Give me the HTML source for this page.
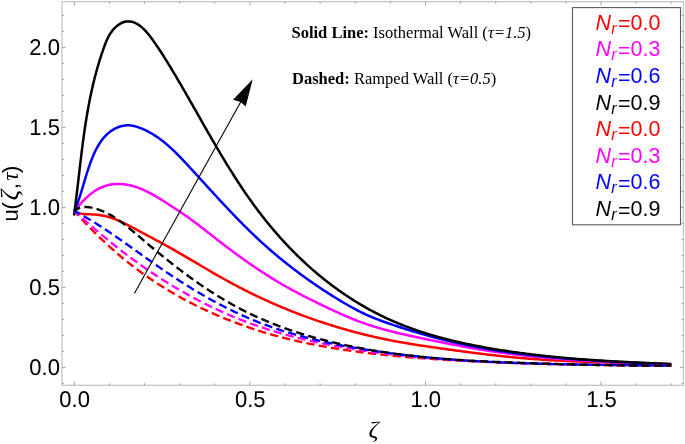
<!DOCTYPE html>
<html><head><meta charset="utf-8"><title>u(ζ,τ) plot</title>
<style>html,body{margin:0;padding:0;background:#fff;}svg{display:block;}</style></head>
<body>
<svg width="685" height="444" viewBox="0 0 685 444"><rect x="62.0" y="1.7" width="621.40" height="383.60" fill="none" stroke="#c6c6c6" stroke-width="1.3"/>
<path d="M74.30,385.3 v-3.6 M74.30,1.7 v3.6 M109.42,385.3 v-2.0 M109.42,1.7 v2.0 M144.54,385.3 v-2.0 M144.54,1.7 v2.0 M179.66,385.3 v-2.0 M179.66,1.7 v2.0 M214.78,385.3 v-2.0 M214.78,1.7 v2.0 M249.90,385.3 v-3.6 M249.90,1.7 v3.6 M285.02,385.3 v-2.0 M285.02,1.7 v2.0 M320.14,385.3 v-2.0 M320.14,1.7 v2.0 M355.26,385.3 v-2.0 M355.26,1.7 v2.0 M390.38,385.3 v-2.0 M390.38,1.7 v2.0 M425.50,385.3 v-3.6 M425.50,1.7 v3.6 M460.62,385.3 v-2.0 M460.62,1.7 v2.0 M495.74,385.3 v-2.0 M495.74,1.7 v2.0 M530.86,385.3 v-2.0 M530.86,1.7 v2.0 M565.98,385.3 v-2.0 M565.98,1.7 v2.0 M601.10,385.3 v-3.6 M601.10,1.7 v3.6 M636.22,385.3 v-2.0 M636.22,1.7 v2.0 M671.34,385.3 v-2.0 M671.34,1.7 v2.0 M62.0,383.30 h2.0 M683.4,383.30 h-2.0 M62.0,367.30 h3.6 M683.4,367.30 h-3.6 M62.0,351.30 h2.0 M683.4,351.30 h-2.0 M62.0,335.30 h2.0 M683.4,335.30 h-2.0 M62.0,319.30 h2.0 M683.4,319.30 h-2.0 M62.0,303.30 h2.0 M683.4,303.30 h-2.0 M62.0,287.30 h3.6 M683.4,287.30 h-3.6 M62.0,271.30 h2.0 M683.4,271.30 h-2.0 M62.0,255.30 h2.0 M683.4,255.30 h-2.0 M62.0,239.30 h2.0 M683.4,239.30 h-2.0 M62.0,223.30 h2.0 M683.4,223.30 h-2.0 M62.0,207.30 h3.6 M683.4,207.30 h-3.6 M62.0,191.30 h2.0 M683.4,191.30 h-2.0 M62.0,175.30 h2.0 M683.4,175.30 h-2.0 M62.0,159.30 h2.0 M683.4,159.30 h-2.0 M62.0,143.30 h2.0 M683.4,143.30 h-2.0 M62.0,127.30 h3.6 M683.4,127.30 h-3.6 M62.0,111.30 h2.0 M683.4,111.30 h-2.0 M62.0,95.30 h2.0 M683.4,95.30 h-2.0 M62.0,79.30 h2.0 M683.4,79.30 h-2.0 M62.0,63.30 h2.0 M683.4,63.30 h-2.0 M62.0,47.30 h3.6 M683.4,47.30 h-3.6 M62.0,31.30 h2.0 M683.4,31.30 h-2.0 M62.0,15.30 h2.0 M683.4,15.30 h-2.0" stroke="#a0a0a0" stroke-width="1" fill="none"/>
<g font-family="Liberation Sans, Arial, sans-serif" font-size="22.9" fill="#000" text-rendering="geometricPrecision"><text transform="translate(59.9,374.60) scale(0.96,1)" text-anchor="end">0.0</text><text transform="translate(59.9,294.60) scale(0.96,1)" text-anchor="end">0.5</text><text transform="translate(59.9,214.60) scale(0.96,1)" text-anchor="end">1.0</text><text transform="translate(59.9,134.60) scale(0.96,1)" text-anchor="end">1.5</text><text transform="translate(59.9,54.60) scale(0.96,1)" text-anchor="end">2.0</text><text transform="translate(74.60,407.4) scale(0.96,1)" text-anchor="middle">0.0</text><text transform="translate(250.20,407.4) scale(0.96,1)" text-anchor="middle">0.5</text><text transform="translate(425.80,407.4) scale(0.96,1)" text-anchor="middle">1.0</text><text transform="translate(601.40,407.4) scale(0.96,1)" text-anchor="middle">1.5</text></g>
<text transform="translate(373.6,436.75) scale(1.12,1)" text-anchor="middle" font-family="Liberation Serif, serif" font-style="italic" font-size="22.2">ζ</text>
<text transform="translate(18,215.4) rotate(-90)" text-anchor="middle" font-family="Liberation Sans, sans-serif" font-size="22">u</text>
<text transform="translate(18,205.8) rotate(-90)" text-anchor="middle" font-family="Liberation Sans, sans-serif" font-size="22">(</text>
<text transform="translate(18,195.0) rotate(-90)" text-anchor="middle" font-family="Liberation Serif, serif" font-style="italic" font-size="25.5">ζ</text>
<text transform="translate(18,186.3) rotate(-90)" text-anchor="middle" font-family="Liberation Sans, sans-serif" font-size="22">,</text>
<text transform="translate(18,176.45) rotate(-90)" text-anchor="middle" font-family="Liberation Serif, serif" font-style="italic" font-size="23.5">τ</text>
<text transform="translate(18,169.25) rotate(-90)" text-anchor="middle" font-family="Liberation Sans, sans-serif" font-size="22">)</text>
<path d="M74.38,211.50 L75.87,212.24 L77.36,212.80 L78.84,213.21 L80.32,213.51 L81.79,213.74 L83.26,213.92 L84.73,214.06 L86.19,214.16 L87.65,214.24 L89.10,214.30 L90.55,214.35 L92.00,214.40 L93.44,214.46 L94.89,214.53 L96.32,214.63 L97.75,214.76 L99.18,214.94 L100.61,215.15 L102.03,215.40 L103.45,215.68 L104.87,216.00 L106.28,216.36 L107.69,216.74 L109.09,217.16 L110.50,217.61 L111.90,218.08 L113.29,218.58 L114.68,219.10 L116.07,219.65 L117.46,220.22 L118.84,220.81 L120.22,221.42 L121.60,222.05 L122.98,222.69 L124.35,223.34 L125.72,224.01 L127.08,224.69 L128.44,225.39 L129.80,226.08 L131.16,226.79 L132.52,227.50 L133.87,228.22 L135.22,228.94 L136.56,229.66 L137.91,230.37 L139.25,231.09 L140.59,231.81 L141.92,232.52 L143.26,233.23 L144.59,233.94 L145.92,234.65 L147.24,235.35 L148.57,236.06 L149.89,236.77 L151.21,237.47 L152.53,238.18 L153.85,238.88 L155.16,239.59 L156.48,240.29 L157.79,241.00 L159.10,241.71 L160.41,242.42 L161.72,243.13 L163.02,243.84 L164.33,244.55 L165.63,245.27 L166.93,245.99 L168.23,246.71 L169.53,247.44 L170.83,248.16 L172.13,248.89 L173.42,249.63 L174.72,250.37 L176.01,251.10 L177.31,251.85 L178.60,252.59 L179.90,253.34 L181.19,254.09 L182.48,254.84 L183.77,255.59 L185.06,256.34 L186.35,257.10 L187.64,257.86 L188.94,258.61 L190.23,259.37 L191.52,260.13 L192.81,260.89 L194.10,261.66 L195.39,262.42 L196.68,263.18 L197.97,263.94 L199.26,264.70 L200.56,265.47 L201.85,266.23 L203.14,266.99 L204.44,267.75 L205.73,268.51 L207.02,269.27 L208.32,270.03 L209.62,270.79 L210.92,271.55 L212.22,272.30 L213.52,273.05 L214.82,273.81 L216.12,274.55 L217.42,275.30 L218.73,276.05 L220.03,276.79 L221.34,277.53 L222.65,278.27 L223.96,279.00 L225.27,279.74 L226.59,280.47 L227.90,281.19 L229.22,281.92 L230.54,282.63 L231.86,283.35 L233.19,284.06 L234.51,284.77 L235.84,285.48 L237.17,286.18 L238.50,286.88 L239.83,287.57 L241.17,288.26 L242.51,288.95 L243.84,289.63 L245.18,290.31 L246.53,290.99 L247.87,291.66 L249.22,292.33 L250.56,292.99 L251.91,293.66 L253.26,294.32 L254.62,294.97 L255.97,295.62 L257.33,296.27 L258.68,296.91 L260.04,297.55 L261.40,298.19 L262.77,298.82 L264.13,299.45 L265.50,300.08 L266.87,300.70 L268.23,301.32 L269.61,301.93 L270.98,302.54 L272.35,303.15 L273.73,303.75 L275.10,304.35 L276.48,304.95 L277.86,305.54 L279.24,306.13 L280.63,306.72 L282.01,307.30 L283.40,307.88 L284.79,308.45 L286.18,309.02 L287.57,309.59 L288.96,310.15 L290.35,310.71 L291.75,311.27 L293.14,311.82 L294.54,312.37 L295.94,312.91 L297.34,313.45 L298.74,313.99 L300.14,314.52 L301.55,315.05 L302.95,315.58 L304.36,316.10 L305.77,316.62 L307.18,317.13 L308.59,317.64 L310.00,318.15 L311.42,318.65 L312.83,319.15 L314.25,319.64 L315.66,320.14 L317.08,320.62 L318.50,321.11 L319.92,321.59 L321.34,322.06 L322.77,322.54 L324.19,323.01 L325.62,323.47 L327.04,323.93 L328.47,324.39 L329.90,324.84 L331.33,325.29 L332.76,325.74 L334.19,326.18 L335.62,326.62 L337.06,327.05 L338.49,327.48 L339.93,327.91 L341.37,328.33 L342.80,328.75 L344.24,329.16 L345.68,329.57 L347.12,329.98 L348.57,330.38 L350.01,330.78 L351.45,331.18 L352.90,331.57 L354.34,331.96 L355.79,332.34 L357.24,332.72 L358.69,333.09 L360.14,333.47 L361.59,333.83 L363.04,334.20 L364.49,334.56 L365.94,334.91 L367.39,335.27 L368.85,335.61 L370.30,335.96 L371.76,336.30 L373.22,336.63 L374.67,336.97 L376.13,337.29 L377.59,337.62 L379.05,337.94 L380.51,338.25 L381.97,338.57 L383.43,338.87 L384.89,339.18 L386.36,339.48 L387.82,339.78 L389.29,340.07 L390.75,340.36 L392.22,340.64 L393.68,340.92 L395.15,341.20 L396.62,341.47 L398.08,341.74 L399.55,342.00 L401.02,342.27 L402.49,342.53 L403.96,342.78 L405.43,343.04 L406.90,343.28 L408.38,343.53 L409.85,343.78 L411.32,344.02 L412.79,344.26 L414.27,344.49 L415.74,344.73 L417.22,344.96 L418.69,345.19 L420.17,345.41 L421.65,345.64 L423.12,345.86 L424.60,346.08 L426.08,346.30 L427.56,346.52 L429.04,346.73 L430.52,346.95 L432.00,347.16 L433.48,347.37 L434.96,347.58 L436.44,347.79 L437.92,348.00 L439.41,348.21 L440.89,348.41 L442.37,348.62 L443.86,348.82 L445.34,349.03 L446.82,349.23 L448.31,349.44 L449.79,349.64 L451.28,349.84 L452.77,350.05 L454.25,350.25 L455.74,350.45 L457.23,350.65 L458.72,350.85 L460.20,351.05 L461.69,351.25 L463.18,351.45 L464.67,351.65 L466.16,351.84 L467.65,352.04 L469.14,352.24 L470.63,352.43 L472.12,352.62 L473.61,352.82 L475.11,353.01 L476.60,353.20 L478.09,353.38 L479.58,353.57 L481.08,353.76 L482.57,353.94 L484.06,354.13 L485.56,354.31 L487.05,354.49 L488.55,354.67 L490.04,354.84 L491.53,355.02 L493.03,355.19 L494.53,355.36 L496.02,355.53 L497.52,355.70 L499.01,355.87 L500.51,356.03 L502.01,356.19 L503.50,356.35 L505.00,356.51 L506.50,356.67 L507.99,356.82 L509.49,356.97 L510.99,357.12 L512.49,357.27 L513.99,357.41 L515.49,357.55 L516.98,357.69 L518.48,357.83 L519.98,357.96 L521.48,358.09 L522.98,358.22 L524.48,358.35 L525.98,358.47 L527.48,358.59 L528.98,358.71 L530.48,358.82 L531.98,358.94 L533.48,359.05 L534.98,359.16 L536.48,359.26 L537.98,359.37 L539.48,359.47 L540.98,359.57 L542.48,359.67 L543.98,359.76 L545.48,359.86 L546.99,359.95 L548.49,360.04 L549.99,360.13 L551.49,360.21 L552.99,360.30 L554.49,360.38 L555.99,360.46 L557.49,360.54 L559.00,360.62 L560.50,360.69 L562.00,360.77 L563.50,360.84 L565.00,360.91 L566.50,360.98 L568.00,361.05 L569.51,361.12 L571.01,361.18 L572.51,361.25 L574.01,361.31 L575.51,361.37 L577.01,361.43 L578.51,361.49 L580.02,361.55 L581.52,361.61 L583.02,361.67 L584.52,361.72 L586.02,361.78 L587.52,361.83 L589.02,361.89 L590.52,361.94 L592.02,361.99 L593.52,362.04 L595.02,362.09 L596.53,362.14 L598.03,362.19 L599.53,362.24 L601.03,362.28 L602.53,362.33 L604.03,362.38 L605.53,362.43 L607.02,362.47 L608.52,362.52 L610.02,362.56 L611.52,362.61 L613.02,362.65 L614.52,362.70 L616.02,362.74 L617.52,362.79 L619.02,362.83 L620.51,362.88 L622.01,362.92 L623.51,362.97 L625.01,363.01 L626.50,363.06 L628.00,363.10 L629.50,363.15 L630.99,363.20 L632.49,363.24 L633.99,363.29 L635.48,363.34 L636.98,363.38 L638.47,363.43 L639.97,363.48 L641.46,363.53 L642.96,363.58 L644.45,363.63 L645.95,363.68 L647.44,363.73 L648.93,363.79 L650.43,363.84 L651.92,363.90 L653.41,363.95 L654.91,364.01 L656.40,364.06 L657.89,364.12 L659.38,364.18 L660.87,364.24 L662.36,364.30 L663.85,364.37 L665.34,364.43 L666.83,364.50 L668.32,364.56 L669.81,364.63 L671.30,364.70" fill="none" stroke="#ff0000" stroke-width="2.5" stroke-linejoin="round"/>
<path d="M74.41,211.00 L75.31,209.88 L76.23,208.75 L77.18,207.61 L78.14,206.47 L79.13,205.34 L80.13,204.20 L81.16,203.07 L82.20,201.95 L83.26,200.85 L84.34,199.75 L85.44,198.67 L86.56,197.62 L87.70,196.58 L88.85,195.57 L90.03,194.58 L91.22,193.63 L92.43,192.71 L93.66,191.82 L94.91,190.97 L96.17,190.16 L97.45,189.39 L98.75,188.67 L100.07,188.00 L101.40,187.38 L102.75,186.81 L104.12,186.29 L105.50,185.83 L106.90,185.42 L108.31,185.07 L109.73,184.76 L111.16,184.51 L112.60,184.30 L114.04,184.14 L115.50,184.03 L116.96,183.97 L118.42,183.95 L119.89,183.98 L121.35,184.05 L122.82,184.16 L124.29,184.31 L125.75,184.51 L127.21,184.74 L128.67,185.02 L130.12,185.33 L131.57,185.68 L133.01,186.07 L134.44,186.49 L135.86,186.94 L137.28,187.43 L138.69,187.94 L140.10,188.48 L141.49,189.05 L142.89,189.65 L144.27,190.27 L145.65,190.92 L147.02,191.58 L148.39,192.27 L149.75,192.97 L151.10,193.69 L152.44,194.43 L153.78,195.18 L155.12,195.95 L156.44,196.72 L157.77,197.51 L159.08,198.30 L160.39,199.11 L161.69,199.92 L162.99,200.73 L164.27,201.55 L165.56,202.36 L166.84,203.18 L168.11,204.00 L169.37,204.81 L170.63,205.62 L171.88,206.44 L173.13,207.25 L174.37,208.06 L175.61,208.87 L176.84,209.68 L178.07,210.49 L179.29,211.31 L180.51,212.12 L181.73,212.94 L182.94,213.77 L184.14,214.59 L185.35,215.42 L186.55,216.26 L187.74,217.10 L188.94,217.95 L190.13,218.81 L191.32,219.67 L192.50,220.54 L193.69,221.41 L194.87,222.29 L196.05,223.18 L197.23,224.07 L198.41,224.97 L199.59,225.87 L200.76,226.77 L201.94,227.68 L203.11,228.59 L204.29,229.51 L205.46,230.43 L206.63,231.35 L207.81,232.27 L208.98,233.19 L210.16,234.11 L211.33,235.04 L212.51,235.96 L213.69,236.89 L214.87,237.81 L216.05,238.74 L217.24,239.66 L218.42,240.58 L219.61,241.50 L220.80,242.42 L221.99,243.33 L223.18,244.25 L224.38,245.16 L225.58,246.07 L226.78,246.98 L227.98,247.89 L229.18,248.79 L230.39,249.70 L231.59,250.60 L232.80,251.49 L234.01,252.39 L235.23,253.28 L236.44,254.17 L237.66,255.06 L238.88,255.95 L240.10,256.83 L241.33,257.71 L242.55,258.59 L243.78,259.46 L245.01,260.33 L246.24,261.20 L247.47,262.07 L248.71,262.93 L249.95,263.79 L251.19,264.64 L252.43,265.50 L253.67,266.34 L254.92,267.19 L256.16,268.03 L257.41,268.87 L258.66,269.70 L259.92,270.53 L261.17,271.36 L262.43,272.18 L263.69,273.00 L264.95,273.82 L266.21,274.63 L267.48,275.43 L268.75,276.23 L270.02,277.03 L271.29,277.83 L272.56,278.61 L273.84,279.40 L275.11,280.18 L276.39,280.95 L277.67,281.72 L278.96,282.49 L280.24,283.25 L281.53,284.00 L282.82,284.75 L284.11,285.50 L285.40,286.24 L286.70,286.97 L287.99,287.70 L289.29,288.43 L290.59,289.15 L291.89,289.86 L293.20,290.57 L294.51,291.27 L295.81,291.97 L297.13,292.67 L298.44,293.36 L299.75,294.04 L301.07,294.72 L302.39,295.40 L303.71,296.08 L305.03,296.75 L306.36,297.42 L307.68,298.09 L309.01,298.75 L310.34,299.41 L311.67,300.07 L313.01,300.73 L314.34,301.38 L315.68,302.04 L317.02,302.69 L318.36,303.35 L319.71,304.00 L321.05,304.65 L322.40,305.30 L323.75,305.95 L325.10,306.60 L326.46,307.25 L327.81,307.89 L329.17,308.54 L330.53,309.18 L331.89,309.82 L333.26,310.46 L334.62,311.09 L335.99,311.72 L337.36,312.35 L338.73,312.97 L340.10,313.59 L341.48,314.20 L342.85,314.81 L344.23,315.41 L345.61,316.01 L347.00,316.61 L348.38,317.19 L349.77,317.77 L351.16,318.35 L352.55,318.92 L353.94,319.48 L355.34,320.03 L356.73,320.57 L358.13,321.11 L359.53,321.64 L360.94,322.16 L362.34,322.67 L363.75,323.18 L365.15,323.67 L366.56,324.16 L367.98,324.63 L369.39,325.10 L370.81,325.56 L372.22,326.01 L373.64,326.45 L375.06,326.89 L376.49,327.32 L377.91,327.74 L379.34,328.15 L380.77,328.56 L382.20,328.96 L383.63,329.36 L385.06,329.75 L386.49,330.13 L387.93,330.51 L389.37,330.88 L390.81,331.25 L392.25,331.61 L393.69,331.97 L395.13,332.32 L396.58,332.67 L398.02,333.01 L399.47,333.36 L400.92,333.69 L402.37,334.03 L403.82,334.36 L405.27,334.69 L406.73,335.01 L408.18,335.33 L409.64,335.66 L411.10,335.97 L412.56,336.29 L414.02,336.61 L415.48,336.92 L416.94,337.23 L418.40,337.55 L419.87,337.86 L421.33,338.17 L422.80,338.48 L424.27,338.79 L425.73,339.10 L427.20,339.41 L428.67,339.71 L430.14,340.02 L431.62,340.32 L433.09,340.63 L434.56,340.93 L436.04,341.23 L437.51,341.54 L438.99,341.83 L440.46,342.13 L441.94,342.43 L443.42,342.73 L444.90,343.02 L446.37,343.31 L447.85,343.61 L449.33,343.90 L450.81,344.18 L452.30,344.47 L453.78,344.76 L455.26,345.04 L456.74,345.32 L458.22,345.60 L459.71,345.88 L461.19,346.15 L462.68,346.43 L464.16,346.70 L465.65,346.97 L467.13,347.24 L468.62,347.50 L470.10,347.76 L471.59,348.03 L473.07,348.28 L474.56,348.54 L476.04,348.79 L477.53,349.04 L479.02,349.29 L480.50,349.54 L481.99,349.78 L483.48,350.02 L484.96,350.26 L486.45,350.49 L487.94,350.72 L489.42,350.95 L490.91,351.18 L492.40,351.40 L493.88,351.62 L495.37,351.84 L496.85,352.05 L498.34,352.26 L499.83,352.47 L501.31,352.68 L502.80,352.88 L504.28,353.08 L505.77,353.28 L507.25,353.47 L508.74,353.66 L510.23,353.85 L511.71,354.04 L513.20,354.22 L514.68,354.40 L516.17,354.58 L517.65,354.76 L519.14,354.93 L520.62,355.10 L522.11,355.27 L523.59,355.44 L525.08,355.60 L526.56,355.76 L528.05,355.92 L529.53,356.08 L531.02,356.24 L532.50,356.39 L533.99,356.54 L535.47,356.69 L536.96,356.83 L538.44,356.98 L539.93,357.12 L541.41,357.26 L542.90,357.39 L544.39,357.53 L545.87,357.66 L547.36,357.79 L548.84,357.92 L550.33,358.05 L551.81,358.18 L553.30,358.30 L554.79,358.42 L556.27,358.54 L557.76,358.66 L559.24,358.78 L560.73,358.89 L562.22,359.00 L563.70,359.12 L565.19,359.23 L566.68,359.33 L568.16,359.44 L569.65,359.55 L571.14,359.65 L572.62,359.75 L574.11,359.85 L575.60,359.95 L577.09,360.05 L578.58,360.14 L580.06,360.24 L581.55,360.33 L583.04,360.42 L584.53,360.51 L586.02,360.60 L587.51,360.69 L588.99,360.78 L590.48,360.87 L591.97,360.95 L593.46,361.03 L594.95,361.12 L596.44,361.20 L597.93,361.28 L599.42,361.36 L600.91,361.44 L602.41,361.51 L603.90,361.59 L605.39,361.66 L606.88,361.74 L608.37,361.81 L609.86,361.89 L611.36,361.96 L612.85,362.03 L614.34,362.10 L615.83,362.17 L617.33,362.24 L618.82,362.31 L620.31,362.38 L621.81,362.44 L623.30,362.51 L624.80,362.58 L626.29,362.64 L627.79,362.71 L629.28,362.77 L630.78,362.84 L632.28,362.90 L633.77,362.96 L635.27,363.03 L636.77,363.09 L638.26,363.15 L639.76,363.21 L641.26,363.27 L642.76,363.34 L644.26,363.40 L645.76,363.46 L647.26,363.52 L648.76,363.58 L650.26,363.64 L651.76,363.70 L653.26,363.76 L654.76,363.82 L656.26,363.89 L657.76,363.95 L659.27,364.01 L660.77,364.07 L662.27,364.13 L663.78,364.19 L665.28,364.25 L666.78,364.31 L668.29,364.38 L669.79,364.44 L671.30,364.50" fill="none" stroke="#ff00ff" stroke-width="2.5" stroke-linejoin="round"/>
<path d="M74.40,211.00 L75.00,209.57 L75.59,208.14 L76.15,206.72 L76.70,205.29 L77.24,203.88 L77.76,202.46 L78.26,201.05 L78.75,199.64 L79.23,198.23 L79.70,196.82 L80.16,195.41 L80.61,194.01 L81.05,192.61 L81.49,191.20 L81.92,189.80 L82.35,188.40 L82.77,187.00 L83.19,185.60 L83.60,184.19 L84.02,182.79 L84.44,181.38 L84.86,179.98 L85.28,178.57 L85.70,177.16 L86.13,175.75 L86.56,174.33 L87.01,172.92 L87.45,171.50 L87.91,170.08 L88.38,168.65 L88.85,167.22 L89.34,165.79 L89.84,164.35 L90.36,162.91 L90.89,161.46 L91.43,160.02 L91.99,158.58 L92.57,157.15 L93.17,155.72 L93.78,154.30 L94.42,152.89 L95.08,151.49 L95.75,150.11 L96.46,148.74 L97.18,147.39 L97.93,146.06 L98.71,144.76 L99.51,143.47 L100.35,142.21 L101.21,140.98 L102.10,139.78 L103.02,138.61 L103.97,137.48 L104.95,136.38 L105.97,135.31 L107.02,134.29 L108.11,133.31 L109.23,132.37 L110.39,131.47 L111.59,130.63 L112.82,129.83 L114.09,129.08 L115.39,128.40 L116.72,127.77 L118.07,127.21 L119.45,126.71 L120.84,126.28 L122.26,125.93 L123.69,125.65 L125.14,125.45 L126.59,125.34 L128.06,125.31 L129.53,125.37 L131.01,125.52 L132.48,125.75 L133.96,126.04 L135.43,126.41 L136.90,126.83 L138.35,127.30 L139.80,127.82 L141.23,128.38 L142.64,128.97 L144.04,129.59 L145.42,130.23 L146.78,130.89 L148.12,131.58 L149.44,132.28 L150.75,133.01 L152.04,133.76 L153.32,134.53 L154.58,135.32 L155.83,136.13 L157.06,136.96 L158.28,137.80 L159.49,138.66 L160.68,139.54 L161.86,140.43 L163.03,141.34 L164.19,142.27 L165.33,143.21 L166.47,144.16 L167.60,145.13 L168.71,146.11 L169.82,147.10 L170.92,148.10 L172.02,149.11 L173.10,150.13 L174.18,151.16 L175.25,152.21 L176.31,153.26 L177.37,154.31 L178.42,155.38 L179.47,156.45 L180.52,157.53 L181.56,158.61 L182.59,159.70 L183.62,160.79 L184.65,161.89 L185.68,162.99 L186.70,164.09 L187.73,165.19 L188.75,166.30 L189.77,167.40 L190.79,168.51 L191.81,169.62 L192.83,170.72 L193.85,171.83 L194.87,172.94 L195.88,174.05 L196.90,175.16 L197.92,176.28 L198.93,177.39 L199.95,178.50 L200.96,179.61 L201.98,180.72 L203.00,181.84 L204.01,182.95 L205.03,184.06 L206.04,185.17 L207.06,186.28 L208.07,187.39 L209.09,188.51 L210.10,189.62 L211.12,190.73 L212.14,191.84 L213.15,192.94 L214.17,194.05 L215.19,195.16 L216.21,196.27 L217.23,197.37 L218.25,198.48 L219.27,199.58 L220.29,200.68 L221.32,201.78 L222.34,202.88 L223.36,203.98 L224.39,205.08 L225.42,206.18 L226.44,207.27 L227.47,208.36 L228.50,209.45 L229.54,210.54 L230.57,211.63 L231.60,212.72 L232.64,213.80 L233.68,214.88 L234.72,215.96 L235.76,217.04 L236.80,218.11 L237.85,219.19 L238.89,220.26 L239.94,221.33 L240.99,222.39 L242.04,223.45 L243.10,224.51 L244.15,225.57 L245.21,226.63 L246.27,227.68 L247.34,228.73 L248.40,229.78 L249.47,230.82 L250.54,231.86 L251.61,232.90 L252.69,233.93 L253.76,234.96 L254.84,235.99 L255.93,237.01 L257.01,238.03 L258.10,239.05 L259.19,240.06 L260.29,241.07 L261.39,242.07 L262.49,243.08 L263.59,244.07 L264.70,245.07 L265.81,246.06 L266.92,247.05 L268.03,248.03 L269.15,249.01 L270.27,249.98 L271.40,250.96 L272.53,251.93 L273.66,252.89 L274.79,253.85 L275.93,254.81 L277.07,255.77 L278.21,256.72 L279.35,257.67 L280.50,258.61 L281.65,259.55 L282.81,260.49 L283.97,261.42 L285.13,262.35 L286.29,263.28 L287.46,264.20 L288.63,265.12 L289.80,266.04 L290.98,266.96 L292.16,267.87 L293.34,268.77 L294.53,269.68 L295.71,270.58 L296.91,271.47 L298.10,272.37 L299.30,273.26 L300.50,274.15 L301.70,275.03 L302.91,275.91 L304.12,276.79 L305.34,277.67 L306.55,278.54 L307.77,279.41 L309.00,280.27 L310.22,281.13 L311.45,281.99 L312.68,282.85 L313.92,283.70 L315.16,284.55 L316.40,285.40 L317.65,286.24 L318.90,287.09 L320.15,287.92 L321.40,288.76 L322.66,289.59 L323.92,290.42 L325.19,291.25 L326.46,292.07 L327.73,292.89 L329.00,293.71 L330.28,294.52 L331.56,295.34 L332.85,296.14 L334.14,296.95 L335.43,297.75 L336.72,298.55 L338.02,299.35 L339.32,300.14 L340.62,300.93 L341.93,301.71 L343.24,302.48 L344.55,303.25 L345.87,304.02 L347.19,304.78 L348.51,305.53 L349.83,306.27 L351.16,307.01 L352.49,307.74 L353.83,308.46 L355.16,309.17 L356.50,309.88 L357.84,310.57 L359.19,311.26 L360.53,311.93 L361.88,312.60 L363.24,313.25 L364.59,313.90 L365.95,314.53 L367.31,315.15 L368.67,315.76 L370.04,316.36 L371.40,316.95 L372.77,317.52 L374.15,318.08 L375.52,318.63 L376.90,319.17 L378.28,319.70 L379.66,320.22 L381.04,320.73 L382.43,321.24 L383.82,321.74 L385.21,322.23 L386.60,322.72 L388.00,323.21 L389.39,323.69 L390.79,324.16 L392.19,324.64 L393.59,325.11 L395.00,325.58 L396.41,326.05 L397.81,326.52 L399.23,326.98 L400.64,327.44 L402.05,327.90 L403.47,328.35 L404.89,328.80 L406.30,329.25 L407.73,329.70 L409.15,330.14 L410.57,330.58 L412.00,331.02 L413.43,331.45 L414.85,331.89 L416.29,332.31 L417.72,332.74 L419.15,333.16 L420.59,333.58 L422.02,334.00 L423.46,334.41 L424.90,334.82 L426.34,335.22 L427.78,335.63 L429.22,336.03 L430.67,336.42 L432.11,336.81 L433.56,337.20 L435.01,337.59 L436.46,337.97 L437.91,338.35 L439.36,338.72 L440.81,339.09 L442.26,339.46 L443.72,339.82 L445.17,340.18 L446.63,340.54 L448.08,340.89 L449.54,341.24 L451.00,341.58 L452.46,341.92 L453.92,342.26 L455.38,342.59 L456.84,342.92 L458.30,343.24 L459.76,343.56 L461.23,343.88 L462.69,344.19 L464.16,344.50 L465.62,344.81 L467.09,345.11 L468.56,345.41 L470.03,345.70 L471.50,345.99 L472.97,346.28 L474.44,346.57 L475.91,346.85 L477.38,347.12 L478.85,347.40 L480.32,347.67 L481.80,347.94 L483.27,348.20 L484.75,348.46 L486.22,348.72 L487.70,348.97 L489.18,349.22 L490.65,349.47 L492.13,349.72 L493.61,349.96 L495.09,350.20 L496.57,350.43 L498.05,350.66 L499.53,350.89 L501.01,351.12 L502.49,351.34 L503.98,351.56 L505.46,351.78 L506.94,352.00 L508.43,352.21 L509.91,352.42 L511.40,352.62 L512.88,352.83 L514.37,353.03 L515.85,353.22 L517.34,353.42 L518.83,353.61 L520.32,353.80 L521.80,353.99 L523.29,354.17 L524.78,354.36 L526.27,354.54 L527.76,354.71 L529.25,354.89 L530.74,355.06 L532.23,355.23 L533.72,355.40 L535.22,355.56 L536.71,355.72 L538.20,355.89 L539.69,356.04 L541.18,356.20 L542.68,356.35 L544.17,356.50 L545.67,356.65 L547.16,356.80 L548.65,356.95 L550.15,357.09 L551.64,357.23 L553.14,357.37 L554.63,357.51 L556.13,357.64 L557.62,357.77 L559.12,357.90 L560.62,358.03 L562.11,358.16 L563.61,358.29 L565.11,358.41 L566.60,358.53 L568.10,358.65 L569.60,358.77 L571.10,358.89 L572.59,359.00 L574.09,359.12 L575.59,359.23 L577.09,359.34 L578.58,359.45 L580.08,359.55 L581.58,359.66 L583.08,359.76 L584.58,359.87 L586.07,359.97 L587.57,360.07 L589.07,360.17 L590.57,360.26 L592.07,360.36 L593.57,360.45 L595.07,360.55 L596.56,360.64 L598.06,360.73 L599.56,360.82 L601.06,360.91 L602.56,361.00 L604.06,361.08 L605.55,361.17 L607.05,361.25 L608.55,361.34 L610.05,361.42 L611.55,361.50 L613.04,361.58 L614.54,361.66 L616.04,361.74 L617.54,361.82 L619.04,361.89 L620.53,361.97 L622.03,362.05 L623.53,362.12 L625.02,362.20 L626.52,362.27 L628.02,362.34 L629.51,362.41 L631.01,362.49 L632.51,362.56 L634.00,362.63 L635.50,362.70 L636.99,362.77 L638.49,362.84 L639.98,362.91 L641.48,362.97 L642.97,363.04 L644.46,363.11 L645.96,363.18 L647.45,363.24 L648.94,363.31 L650.44,363.38 L651.93,363.44 L653.42,363.51 L654.91,363.58 L656.41,363.64 L657.90,363.71 L659.39,363.77 L660.88,363.84 L662.37,363.90 L663.86,363.97 L665.35,364.04 L666.84,364.10 L668.32,364.17 L669.81,364.23 L671.30,364.30" fill="none" stroke="#0000ff" stroke-width="2.5" stroke-linejoin="round"/>
<path d="M74.00,215.50 L74.20,214.02 L74.40,212.54 L74.60,211.06 L74.79,209.58 L74.99,208.10 L75.18,206.62 L75.37,205.13 L75.56,203.65 L75.74,202.16 L75.93,200.68 L76.11,199.19 L76.29,197.70 L76.47,196.21 L76.65,194.72 L76.83,193.23 L77.01,191.74 L77.19,190.25 L77.36,188.76 L77.54,187.26 L77.71,185.77 L77.88,184.28 L78.06,182.78 L78.23,181.29 L78.40,179.79 L78.58,178.30 L78.75,176.81 L78.92,175.31 L79.09,173.82 L79.27,172.32 L79.44,170.83 L79.61,169.33 L79.78,167.84 L79.96,166.35 L80.13,164.85 L80.31,163.36 L80.48,161.87 L80.66,160.37 L80.84,158.88 L81.02,157.39 L81.20,155.90 L81.38,154.41 L81.56,152.92 L81.75,151.43 L81.93,149.94 L82.12,148.45 L82.31,146.97 L82.50,145.48 L82.69,144.00 L82.88,142.51 L83.08,141.03 L83.28,139.55 L83.48,138.06 L83.68,136.58 L83.89,135.10 L84.09,133.62 L84.30,132.14 L84.52,130.66 L84.73,129.19 L84.95,127.71 L85.17,126.23 L85.40,124.76 L85.63,123.28 L85.86,121.81 L86.09,120.33 L86.33,118.86 L86.57,117.39 L86.81,115.92 L87.06,114.44 L87.31,112.97 L87.57,111.50 L87.83,110.04 L88.09,108.57 L88.36,107.10 L88.63,105.63 L88.91,104.17 L89.19,102.70 L89.47,101.23 L89.76,99.77 L90.05,98.31 L90.35,96.84 L90.66,95.38 L90.96,93.92 L91.28,92.45 L91.60,90.99 L91.92,89.53 L92.25,88.07 L92.58,86.61 L92.92,85.15 L93.27,83.70 L93.62,82.24 L93.98,80.78 L94.34,79.32 L94.71,77.87 L95.08,76.41 L95.46,74.96 L95.85,73.50 L96.24,72.05 L96.64,70.59 L97.04,69.14 L97.45,67.69 L97.87,66.23 L98.30,64.78 L98.73,63.33 L99.17,61.88 L99.61,60.43 L100.07,58.98 L100.53,57.53 L100.99,56.08 L101.47,54.63 L101.95,53.18 L102.44,51.73 L102.94,50.29 L103.44,48.84 L103.95,47.39 L104.48,45.95 L105.02,44.52 L105.57,43.09 L106.15,41.68 L106.76,40.29 L107.39,38.91 L108.05,37.55 L108.74,36.22 L109.48,34.92 L110.25,33.65 L111.07,32.41 L111.93,31.21 L112.84,30.05 L113.81,28.94 L114.83,27.87 L115.91,26.84 L117.06,25.87 L118.26,24.97 L119.50,24.14 L120.79,23.39 L122.12,22.75 L123.46,22.21 L124.83,21.79 L126.21,21.51 L127.60,21.37 L128.98,21.38 L130.35,21.52 L131.71,21.78 L133.04,22.14 L134.34,22.61 L135.62,23.17 L136.87,23.81 L138.09,24.54 L139.28,25.34 L140.45,26.22 L141.60,27.15 L142.72,28.15 L143.82,29.20 L144.89,30.29 L145.95,31.43 L146.99,32.61 L148.00,33.81 L149.00,35.04 L149.98,36.29 L150.94,37.55 L151.89,38.82 L152.82,40.10 L153.73,41.37 L154.64,42.64 L155.52,43.91 L156.40,45.17 L157.26,46.44 L158.12,47.70 L158.96,48.97 L159.79,50.23 L160.62,51.49 L161.44,52.75 L162.25,54.02 L163.05,55.28 L163.85,56.55 L164.64,57.81 L165.43,59.08 L166.22,60.34 L167.00,61.61 L167.79,62.88 L168.57,64.16 L169.35,65.43 L170.12,66.70 L170.90,67.98 L171.67,69.26 L172.44,70.54 L173.21,71.82 L173.97,73.10 L174.74,74.39 L175.50,75.67 L176.26,76.96 L177.02,78.24 L177.78,79.53 L178.54,80.82 L179.30,82.11 L180.05,83.40 L180.80,84.69 L181.56,85.99 L182.31,87.28 L183.06,88.57 L183.80,89.87 L184.55,91.17 L185.30,92.46 L186.04,93.76 L186.79,95.06 L187.53,96.36 L188.28,97.66 L189.02,98.96 L189.76,100.26 L190.50,101.56 L191.25,102.86 L191.99,104.16 L192.73,105.46 L193.47,106.77 L194.21,108.07 L194.95,109.37 L195.69,110.67 L196.43,111.98 L197.16,113.28 L197.90,114.58 L198.64,115.89 L199.38,117.19 L200.12,118.49 L200.86,119.80 L201.60,121.10 L202.34,122.40 L203.08,123.71 L203.82,125.01 L204.57,126.31 L205.31,127.61 L206.05,128.91 L206.80,130.22 L207.54,131.52 L208.28,132.82 L209.03,134.12 L209.78,135.42 L210.53,136.71 L211.27,138.01 L212.02,139.31 L212.77,140.61 L213.53,141.90 L214.28,143.20 L215.03,144.49 L215.79,145.79 L216.55,147.08 L217.31,148.37 L218.07,149.66 L218.83,150.95 L219.59,152.24 L220.36,153.53 L221.12,154.81 L221.89,156.10 L222.66,157.38 L223.43,158.67 L224.21,159.95 L224.98,161.23 L225.76,162.51 L226.54,163.79 L227.32,165.06 L228.11,166.34 L228.90,167.61 L229.69,168.88 L230.48,170.15 L231.27,171.42 L232.07,172.69 L232.87,173.95 L233.67,175.22 L234.47,176.48 L235.28,177.74 L236.09,179.00 L236.90,180.25 L237.72,181.51 L238.54,182.76 L239.36,184.01 L240.18,185.26 L241.01,186.51 L241.84,187.75 L242.67,188.99 L243.51,190.23 L244.35,191.47 L245.19,192.71 L246.04,193.94 L246.89,195.17 L247.75,196.40 L248.60,197.62 L249.47,198.85 L250.33,200.07 L251.20,201.29 L252.07,202.50 L252.95,203.72 L253.83,204.93 L254.71,206.14 L255.60,207.34 L256.50,208.54 L257.39,209.74 L258.29,210.94 L259.20,212.13 L260.11,213.33 L261.02,214.51 L261.94,215.70 L262.86,216.88 L263.79,218.06 L264.72,219.24 L265.66,220.41 L266.60,221.58 L267.54,222.75 L268.49,223.91 L269.44,225.07 L270.40,226.23 L271.36,227.38 L272.33,228.53 L273.30,229.68 L274.28,230.82 L275.25,231.96 L276.24,233.10 L277.23,234.23 L278.22,235.36 L279.21,236.48 L280.22,237.60 L281.22,238.72 L282.23,239.83 L283.24,240.94 L284.26,242.05 L285.28,243.15 L286.31,244.25 L287.34,245.35 L288.37,246.44 L289.41,247.52 L290.46,248.60 L291.50,249.68 L292.56,250.76 L293.61,251.83 L294.67,252.89 L295.74,253.95 L296.81,255.01 L297.88,256.06 L298.96,257.11 L300.04,258.15 L301.13,259.19 L302.22,260.23 L303.31,261.26 L304.41,262.28 L305.51,263.30 L306.62,264.32 L307.73,265.33 L308.84,266.34 L309.96,267.34 L311.09,268.34 L312.22,269.33 L313.35,270.32 L314.48,271.30 L315.62,272.28 L316.77,273.25 L317.92,274.22 L319.07,275.18 L320.23,276.14 L321.39,277.09 L322.55,278.04 L323.72,278.98 L324.90,279.91 L326.08,280.85 L327.26,281.77 L328.44,282.69 L329.63,283.61 L330.83,284.52 L332.03,285.42 L333.23,286.32 L334.44,287.21 L335.65,288.10 L336.86,288.98 L338.08,289.86 L339.30,290.73 L340.53,291.59 L341.76,292.45 L343.00,293.30 L344.24,294.15 L345.48,294.99 L346.73,295.82 L347.98,296.65 L349.24,297.48 L350.50,298.29 L351.76,299.10 L353.03,299.91 L354.30,300.71 L355.58,301.50 L356.86,302.28 L358.14,303.06 L359.43,303.84 L360.72,304.60 L362.01,305.36 L363.31,306.12 L364.61,306.87 L365.92,307.61 L367.23,308.34 L368.54,309.07 L369.85,309.79 L371.17,310.50 L372.50,311.21 L373.82,311.91 L375.15,312.61 L376.48,313.30 L377.82,313.98 L379.16,314.65 L380.50,315.32 L381.85,315.98 L383.19,316.63 L384.55,317.27 L385.90,317.91 L387.26,318.54 L388.62,319.17 L389.98,319.79 L391.35,320.40 L392.72,321.00 L394.09,321.59 L395.47,322.18 L396.84,322.76 L398.22,323.34 L399.61,323.90 L400.99,324.47 L402.38,325.02 L403.77,325.57 L405.17,326.11 L406.56,326.64 L407.96,327.17 L409.36,327.69 L410.77,328.20 L412.17,328.71 L413.58,329.21 L414.99,329.71 L416.40,330.20 L417.82,330.68 L419.23,331.16 L420.65,331.63 L422.07,332.10 L423.50,332.56 L424.92,333.01 L426.35,333.46 L427.78,333.90 L429.21,334.34 L430.64,334.77 L432.08,335.20 L433.52,335.62 L434.96,336.03 L436.40,336.44 L437.84,336.85 L439.28,337.25 L440.73,337.64 L442.17,338.03 L443.62,338.41 L445.07,338.79 L446.52,339.17 L447.98,339.54 L449.43,339.90 L450.89,340.26 L452.35,340.62 L453.80,340.97 L455.26,341.31 L456.72,341.66 L458.19,341.99 L459.65,342.33 L461.12,342.66 L462.58,342.98 L464.05,343.30 L465.52,343.62 L466.98,343.93 L468.45,344.24 L469.93,344.54 L471.40,344.84 L472.87,345.14 L474.34,345.43 L475.82,345.72 L477.29,346.01 L478.77,346.29 L480.24,346.57 L481.72,346.85 L483.20,347.12 L484.68,347.39 L486.15,347.65 L487.63,347.92 L489.11,348.18 L490.59,348.43 L492.07,348.69 L493.55,348.94 L495.03,349.18 L496.52,349.43 L498.00,349.67 L499.48,349.91 L500.96,350.14 L502.45,350.38 L503.93,350.61 L505.41,350.83 L506.90,351.06 L508.38,351.28 L509.87,351.50 L511.35,351.72 L512.84,351.93 L514.32,352.14 L515.81,352.35 L517.30,352.56 L518.78,352.76 L520.27,352.96 L521.76,353.16 L523.24,353.35 L524.73,353.55 L526.22,353.74 L527.71,353.92 L529.20,354.11 L530.69,354.29 L532.18,354.47 L533.67,354.65 L535.16,354.83 L536.65,355.00 L538.14,355.17 L539.63,355.34 L541.12,355.51 L542.61,355.68 L544.10,355.84 L545.59,356.00 L547.09,356.16 L548.58,356.31 L550.07,356.47 L551.56,356.62 L553.06,356.77 L554.55,356.92 L556.04,357.06 L557.54,357.21 L559.03,357.35 L560.52,357.49 L562.02,357.63 L563.51,357.76 L565.01,357.90 L566.50,358.03 L567.99,358.16 L569.49,358.29 L570.99,358.41 L572.48,358.54 L573.98,358.66 L575.47,358.78 L576.97,358.90 L578.46,359.02 L579.96,359.14 L581.46,359.25 L582.95,359.37 L584.45,359.48 L585.94,359.59 L587.44,359.70 L588.94,359.80 L590.43,359.91 L591.93,360.01 L593.43,360.11 L594.93,360.22 L596.42,360.32 L597.92,360.41 L599.42,360.51 L600.92,360.61 L602.41,360.70 L603.91,360.79 L605.41,360.88 L606.91,360.98 L608.40,361.06 L609.90,361.15 L611.40,361.24 L612.90,361.32 L614.40,361.41 L615.89,361.49 L617.39,361.57 L618.89,361.66 L620.39,361.74 L621.89,361.82 L623.38,361.89 L624.88,361.97 L626.38,362.05 L627.88,362.12 L629.38,362.20 L630.87,362.27 L632.37,362.34 L633.87,362.41 L635.37,362.49 L636.87,362.56 L638.36,362.62 L639.86,362.69 L641.36,362.76 L642.86,362.83 L644.35,362.89 L645.85,362.96 L647.35,363.03 L648.85,363.09 L650.35,363.15 L651.84,363.22 L653.34,363.28 L654.84,363.34 L656.33,363.40 L657.83,363.47 L659.33,363.53 L660.83,363.59 L662.32,363.65 L663.82,363.71 L665.31,363.77 L666.81,363.83 L668.31,363.88 L669.80,363.94 L671.30,364.00" fill="none" stroke="#000000" stroke-width="2.5" stroke-linejoin="round"/>
<path d="M74.41,210.99 L75.40,212.12 L76.40,213.25 L77.41,214.37 L78.41,215.48 L79.42,216.60 L80.43,217.71 L81.45,218.82 L82.47,219.92 L83.49,221.02 L84.52,222.11 L85.55,223.21 L86.59,224.29 L87.62,225.38 L88.66,226.46 L89.71,227.54 L90.75,228.61 L91.80,229.68 L92.86,230.74 L93.92,231.81 L94.98,232.86 L96.04,233.92 L97.11,234.97 L98.18,236.01 L99.25,237.05 L100.33,238.09 L101.41,239.13 L102.50,240.16 L103.59,241.18 L104.68,242.20 L105.78,243.22 L106.88,244.24 L107.98,245.24 L109.08,246.25 L110.19,247.25 L111.31,248.25 L112.43,249.24 L113.55,250.23 L114.67,251.21 L115.80,252.19 L116.93,253.17 L118.06,254.14 L119.20,255.11 L120.34,256.07 L121.49,257.03 L122.64,257.98 L123.79,258.93 L124.95,259.87 L126.11,260.81 L127.27,261.75 L128.44,262.68 L129.61,263.61 L130.78,264.53 L131.96,265.45 L133.14,266.36 L134.33,267.27 L135.52,268.17 L136.71,269.07 L137.91,269.97 L139.11,270.86 L140.31,271.74 L141.52,272.62 L142.73,273.50 L143.94,274.37 L145.16,275.23 L146.38,276.09 L147.61,276.95 L148.84,277.80 L150.07,278.65 L151.31,279.49 L152.55,280.33 L153.80,281.16 L155.05,281.99 L156.30,282.81 L157.55,283.62 L158.81,284.44 L160.08,285.24 L161.34,286.05 L162.61,286.84 L163.89,287.64 L165.16,288.42 L166.44,289.21 L167.72,289.98 L169.01,290.76 L170.30,291.52 L171.59,292.29 L172.89,293.05 L174.19,293.80 L175.49,294.55 L176.80,295.29 L178.11,296.03 L179.42,296.76 L180.73,297.49 L182.05,298.22 L183.37,298.93 L184.69,299.65 L186.02,300.36 L187.35,301.06 L188.68,301.76 L190.01,302.46 L191.35,303.14 L192.69,303.83 L194.03,304.51 L195.38,305.18 L196.73,305.85 L198.08,306.52 L199.43,307.18 L200.78,307.83 L202.14,308.48 L203.50,309.13 L204.86,309.77 L206.23,310.41 L207.59,311.04 L208.96,311.66 L210.34,312.28 L211.71,312.90 L213.08,313.51 L214.46,314.12 L215.84,314.72 L217.22,315.31 L218.61,315.91 L219.99,316.49 L221.38,317.07 L222.77,317.65 L224.16,318.22 L225.56,318.79 L226.95,319.35 L228.35,319.91 L229.75,320.46 L231.15,321.01 L232.55,321.55 L233.95,322.09 L235.36,322.62 L236.77,323.15 L238.17,323.67 L239.58,324.19 L241.00,324.71 L242.41,325.21 L243.82,325.72 L245.24,326.22 L246.65,326.71 L248.07,327.20 L249.49,327.68 L250.91,328.16 L252.34,328.64 L253.76,329.11 L255.18,329.57 L256.61,330.03 L258.03,330.49 L259.46,330.94 L260.89,331.38 L262.32,331.82 L263.75,332.26 L265.18,332.69 L266.61,333.11 L268.04,333.53 L269.48,333.95 L270.91,334.36 L272.35,334.77 L273.78,335.17 L275.22,335.57 L276.66,335.96 L278.10,336.35 L279.54,336.73 L280.98,337.11 L282.42,337.49 L283.86,337.86 L285.31,338.22 L286.75,338.58 L288.19,338.94 L289.64,339.30 L291.09,339.65 L292.53,339.99 L293.98,340.33 L295.43,340.67 L296.88,341.00 L298.33,341.33 L299.78,341.66 L301.23,341.98 L302.69,342.29 L304.14,342.61 L305.59,342.92 L307.05,343.22 L308.50,343.53 L309.96,343.82 L311.42,344.12 L312.87,344.41 L314.33,344.70 L315.79,344.98 L317.25,345.26 L318.71,345.54 L320.17,345.81 L321.64,346.08 L323.10,346.35 L324.56,346.61 L326.03,346.87 L327.49,347.13 L328.96,347.38 L330.42,347.63 L331.89,347.88 L333.36,348.12 L334.83,348.36 L336.29,348.60 L337.76,348.84 L339.23,349.07 L340.70,349.30 L342.18,349.52 L343.65,349.75 L345.12,349.97 L346.59,350.18 L348.07,350.40 L349.54,350.61 L351.02,350.82 L352.49,351.03 L353.97,351.23 L355.44,351.43 L356.92,351.63 L358.40,351.83 L359.88,352.02 L361.35,352.21 L362.83,352.40 L364.31,352.59 L365.79,352.77 L367.28,352.96 L368.76,353.14 L370.24,353.31 L371.72,353.49 L373.20,353.66 L374.69,353.84 L376.17,354.01 L377.66,354.17 L379.14,354.34 L380.63,354.50 L382.11,354.66 L383.60,354.82 L385.09,354.98 L386.57,355.13 L388.06,355.29 L389.55,355.44 L391.04,355.59 L392.53,355.74 L394.02,355.88 L395.51,356.02 L397.00,356.17 L398.49,356.31 L399.98,356.44 L401.47,356.58 L402.96,356.72 L404.45,356.85 L405.95,356.98 L407.44,357.11 L408.93,357.24 L410.43,357.36 L411.92,357.49 L413.42,357.61 L414.91,357.73 L416.41,357.85 L417.90,357.97 L419.40,358.08 L420.90,358.20 L422.39,358.31 L423.89,358.42 L425.39,358.53 L426.88,358.64 L428.38,358.74 L429.88,358.85 L431.38,358.95 L432.88,359.05 L434.38,359.16 L435.88,359.25 L437.38,359.35 L438.88,359.45 L440.38,359.54 L441.88,359.64 L443.38,359.73 L444.88,359.82 L446.38,359.91 L447.88,360.00 L449.38,360.09 L450.89,360.17 L452.39,360.26 L453.89,360.34 L455.39,360.42 L456.90,360.50 L458.40,360.58 L459.90,360.66 L461.41,360.74 L462.91,360.82 L464.41,360.89 L465.92,360.97 L467.42,361.04 L468.93,361.11 L470.43,361.18 L471.93,361.25 L473.44,361.32 L474.94,361.39 L476.45,361.46 L477.95,361.52 L479.46,361.59 L480.96,361.65 L482.47,361.72 L483.98,361.78 L485.48,361.84 L486.99,361.90 L488.49,361.96 L490.00,362.02 L491.51,362.08 L493.01,362.14 L494.52,362.19 L496.03,362.25 L497.53,362.31 L499.04,362.36 L500.54,362.41 L502.05,362.47 L503.56,362.52 L505.06,362.57 L506.57,362.62 L508.08,362.67 L509.59,362.72 L511.09,362.77 L512.60,362.82 L514.11,362.87 L515.61,362.92 L517.12,362.97 L518.63,363.01 L520.13,363.06 L521.64,363.11 L523.15,363.15 L524.65,363.20 L526.16,363.24 L527.67,363.29 L529.17,363.33 L530.68,363.37 L532.19,363.42 L533.69,363.46 L535.20,363.50 L536.70,363.54 L538.21,363.59 L539.72,363.63 L541.22,363.67 L542.73,363.71 L544.23,363.75 L545.74,363.79 L547.25,363.83 L548.75,363.87 L550.26,363.91 L551.76,363.95 L553.27,363.99 L554.77,364.02 L556.28,364.06 L557.78,364.10 L559.29,364.14 L560.79,364.17 L562.29,364.21 L563.80,364.25 L565.30,364.28 L566.81,364.32 L568.31,364.35 L569.81,364.39 L571.32,364.42 L572.82,364.46 L574.32,364.49 L575.82,364.52 L577.33,364.56 L578.83,364.59 L580.33,364.62 L581.83,364.65 L583.33,364.68 L584.83,364.71 L586.33,364.74 L587.84,364.77 L589.34,364.80 L590.84,364.83 L592.34,364.86 L593.84,364.89 L595.33,364.92 L596.83,364.95 L598.33,364.97 L599.83,365.00 L601.33,365.03 L602.83,365.05 L604.32,365.08 L605.82,365.10 L607.32,365.13 L608.81,365.15 L610.31,365.18 L611.81,365.20 L613.30,365.22 L614.80,365.25 L616.29,365.27 L617.78,365.29 L619.28,365.31 L620.77,365.33 L622.27,365.35 L623.76,365.37 L625.25,365.39 L626.74,365.41 L628.23,365.43 L629.73,365.45 L631.22,365.46 L632.71,365.48 L634.20,365.50 L635.69,365.51 L637.18,365.53 L638.66,365.55 L640.15,365.56 L641.64,365.57 L643.13,365.59 L644.61,365.60 L646.10,365.61 L647.59,365.63 L649.07,365.64 L650.56,365.65 L652.04,365.66 L653.53,365.67 L655.01,365.68 L656.49,365.69 L657.97,365.70 L659.46,365.71 L660.94,365.71 L662.42,365.72 L663.90,365.73 L665.38,365.73 L666.86,365.74 L668.34,365.74 L669.82,365.75 L671.29,365.75" fill="none" stroke="#ff0000" stroke-width="2.35" stroke-dasharray="8.2 4.24" stroke-dashoffset="1.69"/>
<path d="M74.41,211.00 L75.50,211.99 L76.59,212.98 L77.68,213.97 L78.77,214.95 L79.87,215.94 L80.97,216.93 L82.07,217.91 L83.17,218.89 L84.28,219.88 L85.39,220.86 L86.50,221.84 L87.62,222.81 L88.73,223.79 L89.85,224.77 L90.98,225.74 L92.10,226.71 L93.23,227.68 L94.36,228.65 L95.49,229.62 L96.63,230.59 L97.77,231.55 L98.91,232.52 L100.05,233.48 L101.20,234.44 L102.34,235.39 L103.49,236.35 L104.65,237.30 L105.80,238.25 L106.96,239.20 L108.12,240.15 L109.29,241.10 L110.45,242.04 L111.62,242.98 L112.79,243.92 L113.97,244.85 L115.14,245.79 L116.32,246.72 L117.50,247.65 L118.69,248.58 L119.87,249.50 L121.06,250.42 L122.25,251.34 L123.45,252.26 L124.64,253.17 L125.84,254.08 L127.04,254.99 L128.25,255.89 L129.45,256.80 L130.66,257.69 L131.87,258.59 L133.08,259.48 L134.30,260.37 L135.52,261.26 L136.74,262.15 L137.96,263.03 L139.19,263.90 L140.42,264.78 L141.65,265.65 L142.88,266.52 L144.11,267.38 L145.35,268.24 L146.59,269.10 L147.83,269.95 L149.08,270.80 L150.33,271.65 L151.58,272.49 L152.83,273.33 L154.08,274.17 L155.34,275.00 L156.60,275.83 L157.86,276.65 L159.12,277.47 L160.39,278.29 L161.66,279.10 L162.93,279.91 L164.20,280.71 L165.48,281.51 L166.75,282.31 L168.03,283.10 L169.32,283.89 L170.60,284.67 L171.89,285.45 L173.18,286.23 L174.47,287.00 L175.76,287.77 L177.06,288.53 L178.36,289.29 L179.66,290.05 L180.96,290.80 L182.26,291.55 L183.57,292.29 L184.88,293.03 L186.19,293.77 L187.50,294.50 L188.82,295.22 L190.13,295.95 L191.45,296.66 L192.77,297.38 L194.10,298.09 L195.42,298.79 L196.75,299.49 L198.08,300.19 L199.41,300.88 L200.74,301.57 L202.08,302.25 L203.42,302.93 L204.76,303.60 L206.10,304.27 L207.44,304.94 L208.79,305.60 L210.13,306.26 L211.48,306.91 L212.84,307.56 L214.19,308.20 L215.54,308.84 L216.90,309.47 L218.26,310.10 L219.62,310.72 L220.98,311.34 L222.35,311.96 L223.71,312.57 L225.08,313.17 L226.45,313.77 L227.82,314.37 L229.20,314.96 L230.57,315.55 L231.95,316.13 L233.33,316.71 L234.71,317.28 L236.09,317.85 L237.48,318.41 L238.86,318.97 L240.25,319.52 L241.64,320.07 L243.03,320.61 L244.43,321.15 L245.82,321.68 L247.22,322.21 L248.62,322.73 L250.02,323.25 L251.42,323.76 L252.82,324.27 L254.22,324.77 L255.63,325.27 L257.04,325.76 L258.45,326.25 L259.86,326.74 L261.27,327.21 L262.69,327.69 L264.10,328.15 L265.52,328.62 L266.94,329.08 L268.36,329.53 L269.78,329.98 L271.20,330.42 L272.63,330.86 L274.05,331.30 L275.48,331.73 L276.91,332.15 L278.34,332.57 L279.77,332.99 L281.20,333.40 L282.64,333.81 L284.07,334.22 L285.51,334.61 L286.94,335.01 L288.38,335.40 L289.82,335.79 L291.27,336.17 L292.71,336.55 L294.15,336.92 L295.60,337.29 L297.04,337.66 L298.49,338.02 L299.94,338.38 L301.39,338.73 L302.84,339.08 L304.29,339.43 L305.74,339.77 L307.20,340.11 L308.65,340.44 L310.11,340.77 L311.56,341.10 L313.02,341.42 L314.48,341.74 L315.94,342.06 L317.40,342.37 L318.86,342.68 L320.32,342.99 L321.79,343.29 L323.25,343.59 L324.72,343.89 L326.18,344.18 L327.65,344.47 L329.12,344.75 L330.58,345.04 L332.05,345.32 L333.52,345.59 L334.99,345.87 L336.46,346.14 L337.93,346.40 L339.41,346.67 L340.88,346.93 L342.35,347.19 L343.83,347.44 L345.30,347.70 L346.78,347.95 L348.25,348.19 L349.73,348.44 L351.21,348.68 L352.68,348.92 L354.16,349.16 L355.64,349.39 L357.12,349.62 L358.60,349.85 L360.08,350.08 L361.56,350.30 L363.04,350.52 L364.52,350.74 L366.00,350.96 L367.49,351.17 L368.97,351.39 L370.45,351.60 L371.93,351.80 L373.42,352.01 L374.90,352.21 L376.39,352.41 L377.87,352.61 L379.36,352.81 L380.84,353.00 L382.33,353.19 L383.81,353.38 L385.30,353.57 L386.79,353.76 L388.27,353.94 L389.76,354.12 L391.25,354.30 L392.74,354.48 L394.22,354.65 L395.71,354.82 L397.20,354.99 L398.69,355.16 L400.18,355.33 L401.67,355.49 L403.16,355.65 L404.65,355.82 L406.14,355.97 L407.63,356.13 L409.13,356.28 L410.62,356.44 L412.11,356.59 L413.60,356.74 L415.09,356.88 L416.59,357.03 L418.08,357.17 L419.57,357.31 L421.07,357.45 L422.56,357.59 L424.06,357.72 L425.55,357.86 L427.04,357.99 L428.54,358.12 L430.03,358.25 L431.53,358.37 L433.03,358.50 L434.52,358.62 L436.02,358.74 L437.51,358.86 L439.01,358.98 L440.51,359.10 L442.00,359.21 L443.50,359.33 L445.00,359.44 L446.50,359.55 L447.99,359.65 L449.49,359.76 L450.99,359.87 L452.49,359.97 L453.99,360.07 L455.49,360.17 L456.99,360.27 L458.48,360.37 L459.98,360.46 L461.48,360.56 L462.98,360.65 L464.48,360.74 L465.98,360.83 L467.48,360.92 L468.98,361.01 L470.48,361.10 L471.98,361.18 L473.48,361.26 L474.98,361.34 L476.48,361.43 L477.99,361.50 L479.49,361.58 L480.99,361.66 L482.49,361.73 L483.99,361.81 L485.49,361.88 L486.99,361.95 L488.50,362.02 L490.00,362.09 L491.50,362.16 L493.00,362.23 L494.50,362.29 L496.01,362.36 L497.51,362.42 L499.01,362.48 L500.51,362.54 L502.01,362.60 L503.52,362.66 L505.02,362.72 L506.52,362.78 L508.02,362.83 L509.53,362.89 L511.03,362.94 L512.53,362.99 L514.04,363.04 L515.54,363.09 L517.04,363.14 L518.54,363.19 L520.05,363.24 L521.55,363.29 L523.05,363.33 L524.56,363.38 L526.06,363.42 L527.56,363.46 L529.06,363.51 L530.57,363.55 L532.07,363.59 L533.57,363.63 L535.08,363.67 L536.58,363.71 L538.08,363.74 L539.59,363.78 L541.09,363.82 L542.59,363.85 L544.09,363.89 L545.60,363.92 L547.10,363.95 L548.60,363.99 L550.10,364.02 L551.61,364.05 L553.11,364.08 L554.61,364.11 L556.11,364.14 L557.62,364.17 L559.12,364.20 L560.62,364.23 L562.12,364.25 L563.62,364.28 L565.13,364.31 L566.63,364.33 L568.13,364.36 L569.63,364.38 L571.13,364.40 L572.63,364.43 L574.13,364.45 L575.64,364.47 L577.14,364.50 L578.64,364.52 L580.14,364.54 L581.64,364.56 L583.14,364.58 L584.64,364.60 L586.14,364.62 L587.64,364.64 L589.14,364.66 L590.64,364.68 L592.14,364.70 L593.64,364.72 L595.14,364.74 L596.64,364.76 L598.14,364.78 L599.63,364.80 L601.13,364.81 L602.63,364.83 L604.13,364.85 L605.63,364.87 L607.12,364.88 L608.62,364.90 L610.12,364.92 L611.62,364.93 L613.11,364.95 L614.61,364.97 L616.11,364.99 L617.60,365.00 L619.10,365.02 L620.60,365.04 L622.09,365.05 L623.59,365.07 L625.08,365.09 L626.58,365.10 L628.07,365.12 L629.57,365.14 L631.06,365.15 L632.55,365.17 L634.05,365.19 L635.54,365.21 L637.03,365.22 L638.53,365.24 L640.02,365.26 L641.51,365.28 L643.00,365.30 L644.50,365.31 L645.99,365.33 L647.48,365.35 L648.97,365.37 L650.46,365.39 L651.95,365.41 L653.44,365.43 L654.93,365.45 L656.42,365.47 L657.91,365.49 L659.40,365.52 L660.89,365.54 L662.37,365.56 L663.86,365.58 L665.35,365.61 L666.84,365.63 L668.32,365.65 L669.81,365.68 L671.30,365.70" fill="none" stroke="#ff00ff" stroke-width="2.35" stroke-dasharray="8.2 4.24" stroke-dashoffset="1.57"/>
<path d="M74.41,210.99 L75.72,211.68 L77.03,212.38 L78.33,213.08 L79.63,213.79 L80.93,214.51 L82.22,215.24 L83.51,215.97 L84.80,216.71 L86.08,217.45 L87.36,218.20 L88.64,218.96 L89.91,219.72 L91.19,220.49 L92.46,221.26 L93.73,222.04 L94.99,222.82 L96.25,223.61 L97.52,224.41 L98.77,225.21 L100.03,226.01 L101.28,226.82 L102.54,227.63 L103.79,228.45 L105.04,229.27 L106.28,230.09 L107.53,230.92 L108.77,231.75 L110.01,232.59 L111.26,233.43 L112.49,234.27 L113.73,235.12 L114.97,235.96 L116.20,236.81 L117.44,237.67 L118.67,238.52 L119.90,239.38 L121.14,240.24 L122.37,241.11 L123.60,241.97 L124.83,242.84 L126.06,243.71 L127.28,244.58 L128.51,245.45 L129.74,246.32 L130.97,247.20 L132.19,248.07 L133.42,248.95 L134.65,249.82 L135.87,250.70 L137.10,251.58 L138.32,252.45 L139.55,253.33 L140.78,254.21 L142.01,255.08 L143.23,255.96 L144.46,256.84 L145.69,257.71 L146.92,258.59 L148.15,259.46 L149.38,260.33 L150.61,261.21 L151.85,262.08 L153.08,262.95 L154.32,263.81 L155.55,264.68 L156.79,265.54 L158.03,266.40 L159.27,267.26 L160.51,268.12 L161.75,268.97 L163.00,269.83 L164.24,270.68 L165.49,271.52 L166.74,272.37 L167.99,273.21 L169.24,274.05 L170.49,274.89 L171.75,275.72 L173.00,276.55 L174.26,277.38 L175.52,278.20 L176.78,279.03 L178.04,279.84 L179.31,280.66 L180.58,281.47 L181.84,282.28 L183.11,283.09 L184.38,283.89 L185.66,284.69 L186.93,285.49 L188.21,286.28 L189.49,287.07 L190.76,287.86 L192.05,288.64 L193.33,289.42 L194.61,290.20 L195.90,290.97 L197.19,291.74 L198.48,292.51 L199.77,293.27 L201.07,294.02 L202.36,294.78 L203.66,295.53 L204.96,296.27 L206.26,297.01 L207.57,297.75 L208.87,298.48 L210.18,299.21 L211.49,299.94 L212.80,300.66 L214.12,301.37 L215.43,302.09 L216.75,302.79 L218.07,303.50 L219.39,304.19 L220.71,304.89 L222.04,305.58 L223.37,306.26 L224.70,306.94 L226.03,307.62 L227.36,308.29 L228.70,308.96 L230.04,309.62 L231.38,310.27 L232.72,310.92 L234.07,311.57 L235.42,312.21 L236.77,312.85 L238.12,313.48 L239.47,314.10 L240.83,314.72 L242.19,315.34 L243.55,315.95 L244.91,316.55 L246.28,317.15 L247.64,317.75 L249.01,318.33 L250.39,318.92 L251.76,319.49 L253.14,320.06 L254.52,320.63 L255.90,321.19 L257.29,321.74 L258.67,322.29 L260.06,322.83 L261.45,323.37 L262.85,323.90 L264.25,324.43 L265.64,324.95 L267.05,325.46 L268.45,325.97 L269.85,326.47 L271.26,326.97 L272.67,327.46 L274.08,327.95 L275.50,328.43 L276.92,328.90 L278.33,329.37 L279.75,329.84 L281.18,330.30 L282.60,330.75 L284.03,331.20 L285.45,331.65 L286.88,332.09 L288.32,332.52 L289.75,332.95 L291.19,333.38 L292.62,333.80 L294.06,334.21 L295.50,334.62 L296.94,335.03 L298.39,335.43 L299.83,335.83 L301.28,336.22 L302.73,336.61 L304.18,336.99 L305.63,337.37 L307.08,337.74 L308.54,338.12 L309.99,338.48 L311.45,338.84 L312.91,339.20 L314.37,339.55 L315.83,339.90 L317.29,340.25 L318.76,340.59 L320.22,340.93 L321.69,341.26 L323.15,341.59 L324.62,341.91 L326.09,342.24 L327.56,342.55 L329.03,342.87 L330.50,343.18 L331.97,343.49 L333.45,343.79 L334.92,344.09 L336.40,344.39 L337.87,344.68 L339.35,344.97 L340.83,345.26 L342.31,345.54 L343.79,345.82 L345.27,346.09 L346.75,346.37 L348.23,346.64 L349.71,346.91 L351.19,347.17 L352.67,347.43 L354.16,347.69 L355.64,347.94 L357.13,348.20 L358.61,348.45 L360.09,348.69 L361.58,348.94 L363.07,349.18 L364.55,349.42 L366.04,349.66 L367.52,349.89 L369.01,350.12 L370.50,350.35 L371.98,350.58 L373.47,350.80 L374.96,351.02 L376.44,351.24 L377.93,351.46 L379.42,351.67 L380.91,351.88 L382.39,352.09 L383.88,352.30 L385.37,352.50 L386.86,352.71 L388.35,352.91 L389.84,353.10 L391.32,353.30 L392.81,353.49 L394.30,353.68 L395.79,353.87 L397.28,354.06 L398.77,354.24 L400.26,354.43 L401.75,354.61 L403.24,354.78 L404.73,354.96 L406.22,355.13 L407.71,355.30 L409.20,355.47 L410.70,355.64 L412.19,355.81 L413.68,355.97 L415.17,356.13 L416.66,356.29 L418.15,356.45 L419.64,356.60 L421.14,356.75 L422.63,356.90 L424.12,357.05 L425.61,357.20 L427.11,357.34 L428.60,357.49 L430.09,357.63 L431.58,357.77 L433.08,357.91 L434.57,358.04 L436.06,358.17 L437.56,358.31 L439.05,358.44 L440.55,358.56 L442.04,358.69 L443.53,358.82 L445.03,358.94 L446.52,359.06 L448.02,359.18 L449.51,359.30 L451.01,359.41 L452.50,359.53 L453.99,359.64 L455.49,359.75 L456.98,359.86 L458.48,359.97 L459.98,360.07 L461.47,360.18 L462.97,360.28 L464.46,360.38 L465.96,360.48 L467.45,360.58 L468.95,360.68 L470.45,360.77 L471.94,360.86 L473.44,360.96 L474.93,361.05 L476.43,361.14 L477.93,361.22 L479.42,361.31 L480.92,361.40 L482.42,361.48 L483.91,361.56 L485.41,361.64 L486.91,361.72 L488.40,361.80 L489.90,361.87 L491.40,361.95 L492.90,362.02 L494.39,362.10 L495.89,362.17 L497.39,362.24 L498.89,362.31 L500.38,362.37 L501.88,362.44 L503.38,362.51 L504.88,362.57 L506.38,362.63 L507.87,362.69 L509.37,362.76 L510.87,362.81 L512.37,362.87 L513.87,362.93 L515.37,362.99 L516.86,363.04 L518.36,363.10 L519.86,363.15 L521.36,363.20 L522.86,363.25 L524.36,363.30 L525.86,363.35 L527.36,363.40 L528.85,363.44 L530.35,363.49 L531.85,363.54 L533.35,363.58 L534.85,363.62 L536.35,363.67 L537.85,363.71 L539.35,363.75 L540.85,363.79 L542.35,363.83 L543.85,363.86 L545.35,363.90 L546.85,363.94 L548.34,363.97 L549.84,364.01 L551.34,364.04 L552.84,364.08 L554.34,364.11 L555.84,364.14 L557.34,364.17 L558.84,364.20 L560.34,364.23 L561.84,364.26 L563.34,364.29 L564.84,364.32 L566.34,364.35 L567.84,364.37 L569.34,364.40 L570.84,364.43 L572.34,364.45 L573.84,364.48 L575.34,364.50 L576.84,364.53 L578.34,364.55 L579.84,364.57 L581.34,364.59 L582.84,364.62 L584.34,364.64 L585.84,364.66 L587.34,364.68 L588.84,364.70 L590.34,364.72 L591.84,364.74 L593.34,364.76 L594.84,364.78 L596.34,364.80 L597.84,364.82 L599.34,364.83 L600.84,364.85 L602.34,364.87 L603.84,364.89 L605.34,364.90 L606.84,364.92 L608.34,364.94 L609.84,364.95 L611.34,364.97 L612.84,364.99 L614.34,365.00 L615.84,365.02 L617.34,365.03 L618.84,365.05 L620.34,365.06 L621.84,365.08 L623.34,365.10 L624.83,365.11 L626.33,365.13 L627.83,365.14 L629.33,365.16 L630.83,365.17 L632.33,365.19 L633.83,365.20 L635.33,365.22 L636.83,365.24 L638.33,365.25 L639.83,365.27 L641.33,365.28 L642.83,365.30 L644.33,365.32 L645.82,365.33 L647.32,365.35 L648.82,365.37 L650.32,365.38 L651.82,365.40 L653.32,365.42 L654.82,365.44 L656.32,365.45 L657.82,365.47 L659.31,365.49 L660.81,365.51 L662.31,365.53 L663.81,365.55 L665.31,365.57 L666.81,365.59 L668.30,365.61 L669.80,365.63 L671.30,365.65" fill="none" stroke="#0000ff" stroke-width="2.35" stroke-dasharray="8.2 4.24" stroke-dashoffset="1.8"/>
<path d="M74.39,210.99 L75.75,209.96 L77.13,209.11 L78.53,208.42 L79.94,207.88 L81.37,207.49 L82.82,207.22 L84.26,207.08 L85.71,207.03 L87.17,207.08 L88.61,207.21 L90.06,207.42 L91.50,207.68 L92.92,207.98 L94.33,208.32 L95.73,208.70 L97.11,209.11 L98.48,209.56 L99.84,210.03 L101.19,210.54 L102.52,211.08 L103.85,211.65 L105.16,212.24 L106.46,212.87 L107.75,213.52 L109.04,214.19 L110.31,214.89 L111.57,215.61 L112.83,216.36 L114.08,217.13 L115.32,217.91 L116.55,218.72 L117.77,219.55 L118.99,220.39 L120.20,221.25 L121.41,222.12 L122.61,223.01 L123.80,223.92 L124.99,224.83 L126.18,225.76 L127.36,226.70 L128.53,227.64 L129.71,228.60 L130.88,229.57 L132.05,230.54 L133.21,231.51 L134.38,232.49 L135.54,233.48 L136.70,234.47 L137.86,235.46 L139.02,236.45 L140.18,237.44 L141.34,238.43 L142.50,239.41 L143.66,240.40 L144.82,241.39 L145.99,242.37 L147.15,243.35 L148.31,244.33 L149.48,245.31 L150.64,246.28 L151.81,247.26 L152.98,248.23 L154.15,249.20 L155.31,250.17 L156.48,251.13 L157.65,252.10 L158.83,253.06 L160.00,254.02 L161.17,254.97 L162.35,255.93 L163.52,256.88 L164.70,257.83 L165.88,258.77 L167.06,259.72 L168.24,260.66 L169.42,261.60 L170.61,262.53 L171.79,263.47 L172.98,264.40 L174.16,265.32 L175.35,266.25 L176.54,267.17 L177.74,268.09 L178.93,269.00 L180.13,269.91 L181.32,270.82 L182.52,271.73 L183.72,272.63 L184.93,273.52 L186.13,274.42 L187.34,275.31 L188.54,276.20 L189.75,277.08 L190.97,277.96 L192.18,278.84 L193.39,279.71 L194.61,280.58 L195.83,281.44 L197.05,282.30 L198.28,283.16 L199.51,284.01 L200.73,284.86 L201.96,285.70 L203.20,286.54 L204.43,287.37 L205.67,288.20 L206.91,289.03 L208.15,289.85 L209.40,290.67 L210.65,291.48 L211.90,292.29 L213.15,293.09 L214.41,293.89 L215.66,294.68 L216.92,295.47 L218.19,296.26 L219.45,297.03 L220.72,297.81 L221.99,298.58 L223.27,299.34 L224.55,300.10 L225.83,300.85 L227.11,301.60 L228.40,302.34 L229.69,303.08 L230.98,303.81 L232.27,304.53 L233.57,305.25 L234.88,305.97 L236.18,306.68 L237.49,307.38 L238.80,308.08 L240.12,308.77 L241.43,309.45 L242.76,310.13 L244.08,310.80 L245.41,311.47 L246.74,312.13 L248.08,312.79 L249.41,313.44 L250.76,314.08 L252.10,314.72 L253.45,315.35 L254.80,315.97 L256.15,316.59 L257.51,317.21 L258.87,317.82 L260.23,318.42 L261.60,319.02 L262.97,319.61 L264.34,320.19 L265.72,320.78 L267.09,321.35 L268.47,321.92 L269.86,322.48 L271.24,323.04 L272.63,323.60 L274.02,324.14 L275.41,324.69 L276.81,325.22 L278.21,325.75 L279.61,326.28 L281.01,326.80 L282.42,327.32 L283.82,327.83 L285.23,328.33 L286.64,328.83 L288.06,329.33 L289.48,329.82 L290.89,330.30 L292.31,330.79 L293.74,331.26 L295.16,331.73 L296.59,332.20 L298.02,332.66 L299.45,333.11 L300.88,333.56 L302.32,334.01 L303.75,334.45 L305.19,334.89 L306.63,335.32 L308.07,335.74 L309.51,336.17 L310.96,336.58 L312.40,337.00 L313.85,337.41 L315.30,337.81 L316.75,338.21 L318.20,338.60 L319.66,339.00 L321.11,339.38 L322.57,339.76 L324.02,340.14 L325.48,340.51 L326.94,340.88 L328.40,341.25 L329.86,341.61 L331.33,341.96 L332.79,342.31 L334.26,342.66 L335.72,343.00 L337.19,343.34 L338.66,343.68 L340.13,344.01 L341.60,344.34 L343.07,344.66 L344.54,344.98 L346.01,345.29 L347.48,345.60 L348.95,345.91 L350.43,346.22 L351.90,346.52 L353.38,346.81 L354.85,347.10 L356.33,347.39 L357.80,347.68 L359.28,347.96 L360.76,348.23 L362.23,348.51 L363.71,348.78 L365.19,349.04 L366.67,349.31 L368.15,349.57 L369.62,349.82 L371.10,350.08 L372.58,350.32 L374.06,350.57 L375.54,350.81 L377.02,351.05 L378.50,351.29 L379.98,351.52 L381.46,351.75 L382.94,351.98 L384.42,352.20 L385.90,352.42 L387.39,352.63 L388.87,352.85 L390.35,353.06 L391.83,353.27 L393.31,353.47 L394.80,353.67 L396.28,353.87 L397.76,354.07 L399.25,354.26 L400.73,354.45 L402.21,354.63 L403.70,354.82 L405.18,355.00 L406.67,355.18 L408.15,355.35 L409.64,355.53 L411.12,355.70 L412.61,355.86 L414.09,356.03 L415.58,356.19 L417.07,356.35 L418.55,356.51 L420.04,356.66 L421.53,356.82 L423.01,356.97 L424.50,357.11 L425.99,357.26 L427.48,357.40 L428.96,357.54 L430.45,357.68 L431.94,357.82 L433.43,357.95 L434.92,358.08 L436.41,358.21 L437.90,358.34 L439.39,358.46 L440.87,358.59 L442.36,358.71 L443.85,358.83 L445.34,358.94 L446.83,359.06 L448.32,359.17 L449.82,359.28 L451.31,359.39 L452.80,359.50 L454.29,359.60 L455.78,359.70 L457.27,359.81 L458.76,359.91 L460.25,360.00 L461.75,360.10 L463.24,360.20 L464.73,360.29 L466.22,360.38 L467.71,360.47 L469.21,360.56 L470.70,360.64 L472.19,360.73 L473.69,360.81 L475.18,360.90 L476.67,360.98 L478.17,361.06 L479.66,361.13 L481.15,361.21 L482.65,361.29 L484.14,361.36 L485.63,361.43 L487.13,361.51 L488.62,361.58 L490.12,361.65 L491.61,361.71 L493.11,361.78 L494.60,361.85 L496.10,361.91 L497.59,361.98 L499.09,362.04 L500.58,362.10 L502.08,362.16 L503.57,362.22 L505.07,362.28 L506.57,362.34 L508.06,362.40 L509.56,362.46 L511.05,362.51 L512.55,362.57 L514.05,362.62 L515.54,362.68 L517.04,362.73 L518.53,362.78 L520.03,362.84 L521.53,362.89 L523.02,362.94 L524.52,362.99 L526.02,363.04 L527.52,363.09 L529.01,363.14 L530.51,363.19 L532.01,363.24 L533.50,363.29 L535.00,363.33 L536.50,363.38 L538.00,363.43 L539.49,363.48 L540.99,363.52 L542.49,363.57 L543.99,363.62 L545.48,363.66 L546.98,363.71 L548.48,363.75 L549.98,363.80 L551.48,363.84 L552.97,363.88 L554.47,363.93 L555.97,363.97 L557.47,364.01 L558.97,364.06 L560.46,364.10 L561.96,364.14 L563.46,364.18 L564.96,364.22 L566.46,364.26 L567.96,364.30 L569.45,364.34 L570.95,364.38 L572.45,364.42 L573.95,364.46 L575.45,364.49 L576.95,364.53 L578.45,364.57 L579.94,364.60 L581.44,364.64 L582.94,364.68 L584.44,364.71 L585.94,364.74 L587.44,364.78 L588.94,364.81 L590.43,364.84 L591.93,364.87 L593.43,364.91 L594.93,364.94 L596.43,364.97 L597.93,365.00 L599.42,365.03 L600.92,365.05 L602.42,365.08 L603.92,365.11 L605.42,365.14 L606.92,365.16 L608.42,365.19 L609.91,365.21 L611.41,365.24 L612.91,365.26 L614.41,365.28 L615.91,365.30 L617.40,365.33 L618.90,365.35 L620.40,365.37 L621.90,365.39 L623.40,365.40 L624.90,365.42 L626.39,365.44 L627.89,365.46 L629.39,365.47 L630.89,365.49 L632.38,365.50 L633.88,365.52 L635.38,365.53 L636.88,365.54 L638.37,365.55 L639.87,365.56 L641.37,365.57 L642.87,365.58 L644.36,365.59 L645.86,365.60 L647.36,365.61 L648.86,365.61 L650.35,365.62 L651.85,365.62 L653.35,365.62 L654.84,365.63 L656.34,365.63 L657.84,365.63 L659.33,365.63 L660.83,365.63 L662.32,365.63 L663.82,365.63 L665.32,365.62 L666.81,365.62 L668.31,365.61 L669.80,365.61 L671.30,365.60" fill="none" stroke="#000000" stroke-width="2.35" stroke-dasharray="8.2 4.24" stroke-dashoffset="1.54"/>
<path d="M134.4,293.4 L241.5,100.5" stroke="#000" stroke-width="1.1" fill="none"/>
<path d="M252.7,79.2 L233,99.8 L240.6,101.9 L245.7,106.6 Z" fill="#000"/>
<g font-family="Liberation Serif, serif" font-size="16.5" fill="#000"><text x="291.5" y="38"><tspan font-weight="bold">Solid Line:</tspan> Isothermal Wall (<tspan font-style="italic">τ=1.5</tspan>)</text><text x="292" y="83.9"><tspan font-weight="bold">Dashed:</tspan> Ramped Wall (<tspan font-style="italic">τ=0.5</tspan>)</text></g>
<rect x="572.5" y="7.6" width="108" height="217.2" fill="#fff" stroke="#5a5a5a" stroke-width="1.1"/>
<g font-family="Liberation Sans, Arial, sans-serif" font-size="22.3"><text transform="translate(595.6,29.90) scale(0.965,1)" fill="#ff0000"><tspan font-style="italic">N</tspan><tspan font-style="italic" font-size="16.5" dy="3.9">r</tspan><tspan dy="-2.4" dx="1.6">=</tspan><tspan dy="-1.5">0.0</tspan></text><text transform="translate(595.6,56.49) scale(0.965,1)" fill="#ff00ff"><tspan font-style="italic">N</tspan><tspan font-style="italic" font-size="16.5" dy="3.9">r</tspan><tspan dy="-2.4" dx="1.6">=</tspan><tspan dy="-1.5">0.3</tspan></text><text transform="translate(595.6,83.08) scale(0.965,1)" fill="#0000ff"><tspan font-style="italic">N</tspan><tspan font-style="italic" font-size="16.5" dy="3.9">r</tspan><tspan dy="-2.4" dx="1.6">=</tspan><tspan dy="-1.5">0.6</tspan></text><text transform="translate(595.6,109.67) scale(0.965,1)" fill="#000000"><tspan font-style="italic">N</tspan><tspan font-style="italic" font-size="16.5" dy="3.9">r</tspan><tspan dy="-2.4" dx="1.6">=</tspan><tspan dy="-1.5">0.9</tspan></text><text transform="translate(595.6,136.26) scale(0.965,1)" fill="#ff0000"><tspan font-style="italic">N</tspan><tspan font-style="italic" font-size="16.5" dy="3.9">r</tspan><tspan dy="-2.4" dx="1.6">=</tspan><tspan dy="-1.5">0.0</tspan></text><text transform="translate(595.6,162.85) scale(0.965,1)" fill="#ff00ff"><tspan font-style="italic">N</tspan><tspan font-style="italic" font-size="16.5" dy="3.9">r</tspan><tspan dy="-2.4" dx="1.6">=</tspan><tspan dy="-1.5">0.3</tspan></text><text transform="translate(595.6,189.44) scale(0.965,1)" fill="#0000ff"><tspan font-style="italic">N</tspan><tspan font-style="italic" font-size="16.5" dy="3.9">r</tspan><tspan dy="-2.4" dx="1.6">=</tspan><tspan dy="-1.5">0.6</tspan></text><text transform="translate(595.6,216.03) scale(0.965,1)" fill="#000000"><tspan font-style="italic">N</tspan><tspan font-style="italic" font-size="16.5" dy="3.9">r</tspan><tspan dy="-2.4" dx="1.6">=</tspan><tspan dy="-1.5">0.9</tspan></text></g></svg>
</body></html>
